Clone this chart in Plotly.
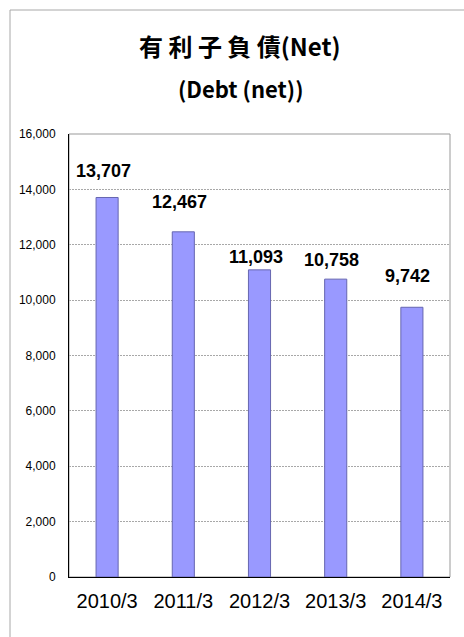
import plotly.graph_objects as go

# ---- data ----
categories = ["2010/3", "2011/3", "2012/3", "2013/3", "2014/3"]
debt_net = [13707, 12467, 11093, 10758, 9742]
y_tick_values = [0, 2000, 4000, 6000, 8000, 10000, 12000, 14000, 16000]
y_tick_labels = ["0", "2,000", "4,000", "6,000", "8,000", "10,000", "12,000", "14,000", "16,000"]
title_line1 = "有 利 子 負 債(Net)"
title_line2 = "(Debt (net))"

# ---- styling (label placement in pixels above bar top) ----
label_shift_px = [26, 30, 13, 19, 31]

W, H = 464, 637
L, R, T, B = 69, 14, 134, 60
pw, ph = W - L - R, H - T - B

def px_x(x):
    return (x - L) / pw

def px_y(y):
    return (H - B - y) / ph

fig = go.Figure()
fig.add_trace(go.Bar(
    x=categories, y=debt_net, width=0.29,
    marker=dict(color="#9999FF", line=dict(color="#6666B0", width=1)),
    hoverinfo="x+y",
))

annotations = []
for c, v, s in zip(categories, debt_net, label_shift_px):
    annotations.append(dict(
        x=c, y=v, xref="x", yref="y", text=f"{v:,}", showarrow=False,
        yanchor="middle", xanchor="center", yshift=s, xshift=-4,
        font=dict(family="Liberation Sans", size=18, color="black", weight="bold"),
    ))
annotations.append(dict(
    x=px_x(240), y=px_y(45), xref="paper", yref="paper", text=title_line1,
    showarrow=False, xanchor="center", yanchor="middle",
    font=dict(family="Noto Sans CJK JP", size=24, color="black", weight="bold"),
))
annotations.append(dict(
    x=px_x(240), y=px_y(88), xref="paper", yref="paper", text=title_line2,
    showarrow=False, xanchor="center", yanchor="middle",
    font=dict(family="Noto Sans CJK JP", size=22, color="black", weight="bold"),
))

shapes = [
    # outer frame
    dict(type="rect", xref="paper", yref="paper",
         x0=px_x(10), y0=px_y(700), x1=px_x(520), y1=px_y(10),
         line=dict(color="#A8A8A8", width=1), layer="below"),
    # plot-area border (top/right)
    dict(type="rect", xref="paper", yref="paper", x0=0, y0=0, x1=1, y1=1,
         line=dict(color="#999999", width=1), layer="below"),
]

fig.update_layout(
    width=W, height=H,
    margin=dict(l=L, r=R, t=T, b=B, autoexpand=False),
    paper_bgcolor="white", plot_bgcolor="white",
    showlegend=False,
    bargap=0.7,
    annotations=annotations,
    shapes=shapes,
    xaxis=dict(
        type="category", showline=True, linecolor="black", linewidth=1,
        showgrid=False, ticks="", automargin=False,
        tickfont=dict(family="Liberation Sans", size=20, color="black"),
        ticklabelstandoff=6,
    ),
    yaxis=dict(
        range=[0, 16000], tickvals=y_tick_values, ticktext=y_tick_labels,
        showline=True, linecolor="black", linewidth=1,
        showgrid=True, gridcolor="#A8A8A8", griddash="2px,1px", gridwidth=1,
        zeroline=False, ticks="", automargin=False,
        tickfont=dict(family="Liberation Sans", size=12, color="black"),
        ticklabelstandoff=10,
    ),
)

fig.write_html(
    "out.html",
    config={"displayModeBar": False},
    post_script="document.body.style.margin='0';document.body.style.overflow='hidden';",
)
